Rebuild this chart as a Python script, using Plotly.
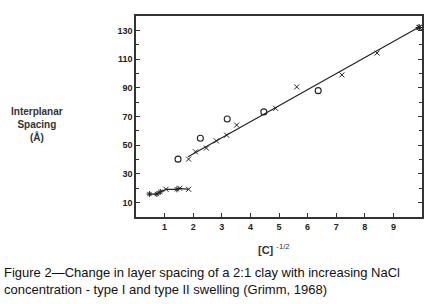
import plotly.graph_objects as go

# Type I swelling (low region)
low_x = [0.47, 0.73, 0.85, 1.05, 1.43, 1.53, 1.84]
low_y = [16.0, 16.0, 17.5, 19.3, 19.3, 20.0, 19.3]
low_sym = ["asterisk-open", "asterisk-open", "asterisk-open", "x-thin-open", "asterisk-open", "x-thin-open", "x-thin-open"]

# Type II swelling, crosses
cross_x = [1.84, 2.08, 2.46, 2.81, 3.17, 3.52, 4.88, 5.62, 7.20, 8.43]
cross_y = [40.3, 45.4, 48.0, 53.0, 57.0, 64.0, 75.7, 90.6, 99.0, 114.2]
end_x = [9.90]
end_y = [132.0]

# Type II swelling, circles
circ_x = [1.47, 2.25, 3.19, 4.47, 6.37]
circ_y = [40.3, 54.8, 68.3, 73.2, 88.0]

# Fitted line for type II swelling
fit_x = [1.82, 9.92]
fit_y = [42.0, 132.5]

x_ticks = [1, 2, 3, 4, 5, 6, 7, 8, 9]
y_ticks = [10, 30, 50, 70, 90, 110, 130]

L, R, T, B = 136, 14, 16, 87
PW, PH = 436 - L - R, 304 - T - B

def px(x):
    return (x - L) / PW

def py(y):
    return (304 - B - y) / PH

fig = go.Figure()
fig.add_trace(go.Scatter(x=fit_x, y=fit_y, mode="lines",
                         line=dict(color="#222", width=1.2), showlegend=False))
fig.add_trace(go.Scatter(x=low_x, y=low_y, mode="lines+markers",
                         line=dict(color="#222", width=1.2),
                         marker=dict(symbol=low_sym, size=5, color="#222",
                                     line=dict(color="#222", width=1)),
                         showlegend=False))
fig.add_trace(go.Scatter(x=cross_x, y=cross_y, mode="markers",
                         marker=dict(symbol="x-thin-open", size=5, color="#222",
                                     line=dict(color="#222", width=1)),
                         showlegend=False))
fig.add_trace(go.Scatter(x=end_x, y=end_y, mode="markers", cliponaxis=False,
                         marker=dict(symbol="asterisk-open", size=6, color="#222",
                                     line=dict(color="#222", width=1.2)),
                         showlegend=False))
fig.add_trace(go.Scatter(x=circ_x, y=circ_y, mode="markers",
                         marker=dict(symbol="circle-open", size=6, color="#222",
                                     line=dict(color="#222", width=1.1)),
                         showlegend=False))

fig.update_layout(
    width=436, height=304,
    margin=dict(l=L, r=R, t=T, b=B, autoexpand=False),
    paper_bgcolor="white", plot_bgcolor="white",
    font=dict(family="Liberation Sans, Arial, sans-serif", color="#222"),
)
fig.update_xaxes(range=[0, 10], tickvals=x_ticks, ticktext=[f"<b>{v}</b>" for v in x_ticks],
                 ticks="inside", ticklen=4, tickwidth=1, tickcolor="#333",
                 showline=True, linecolor="#333", linewidth=1.5, mirror=True,
                 showgrid=False, zeroline=False, automargin=False,
                 tickfont=dict(size=9, color="#222"))
fig.update_yaxes(range=[0, 140], tickvals=y_ticks, ticktext=[f"<b>{v}</b>" for v in y_ticks],
                 ticks="inside", ticklen=4, tickwidth=1, tickcolor="#333",
                 minor=dict(tickvals=[20, 40, 60, 80, 100, 120], ticks="inside", ticklen=3, tickcolor="#333"),
                 showline=True, linecolor="#333", linewidth=1.5, mirror="ticks",
                 showgrid=False, zeroline=False, automargin=False,
                 tickfont=dict(size=9, color="#222"))

fig.add_annotation(xref="paper", yref="paper", x=px(37), y=py(124),
                   xanchor="center", yanchor="middle", showarrow=False, align="center",
                   text="<b>Interplanar<br>Spacing<br>(Å)</b>", font=dict(size=10, color="#333"))
fig.add_annotation(xref="paper", yref="paper", x=px(256), y=py(249),
                   xanchor="left", yanchor="middle", showarrow=False,
                   text="<b>[C]</b> <sup>-1/2</sup>", font=dict(size=11, color="#333"))
fig.add_annotation(xref="paper", yref="paper", x=px(2), y=py(281),
                   xanchor="left", yanchor="middle", showarrow=False, align="left",
                   text="Figure 2—Change in layer spacing of a 2:1 clay with increasing NaCl<br>concentration - type I and type II swelling (Grimm, 1968)",
                   font=dict(size=13, color="#111"))

fig.write_html("out.html", config={"displayModeBar": False},
               post_script="document.body.style.margin='0';document.body.style.padding='0';")
